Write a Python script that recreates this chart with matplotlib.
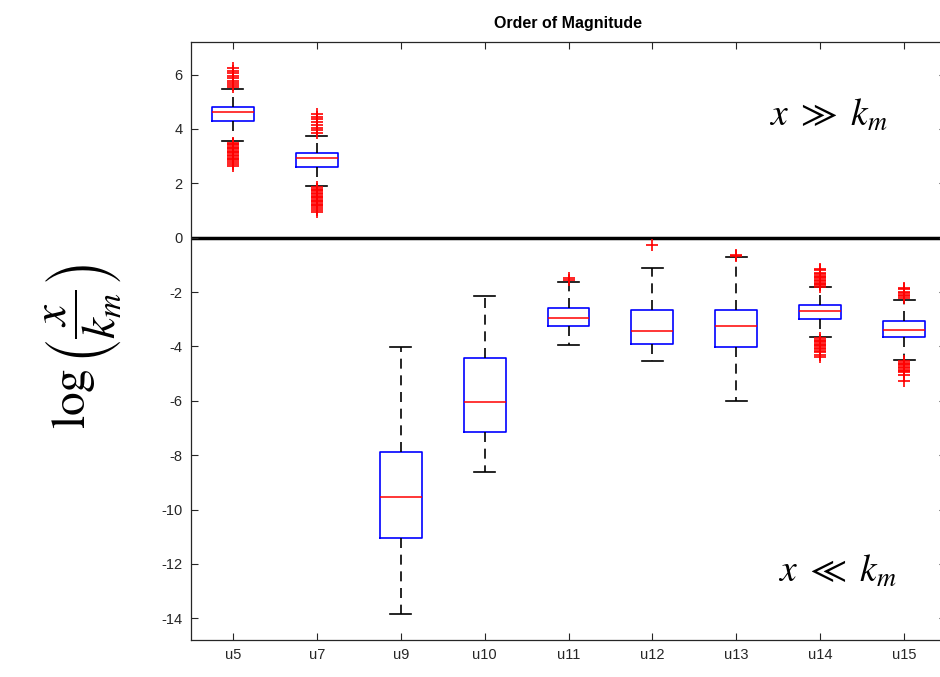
import numpy as np
import matplotlib
matplotlib.use("Agg")
import matplotlib.pyplot as plt

# values
labels = ["u5", "u7", "u9", "u10", "u11", "u12", "u13", "u14", "u15"]
q1 = [4.28, 2.59, -11.04, -7.14, -3.26, -3.90, -4.02, -2.99, -3.65]
med = [4.61, 2.95, -9.53, -6.04, -2.94, -3.42, -3.24, -2.70, -3.41]
q3 = [4.81, 3.11, -7.89, -4.42, -2.59, -2.67, -2.67, -2.49, -3.08]
whislo = [3.57, 1.89, -13.86, -8.63, -3.93, -4.52, -6.02, -3.66, -4.49]
whishi = [5.47, 3.76, -4.02, -2.16, -1.62, -1.11, -0.70, -1.83, -2.28]

fliers = [
    [5.55, 5.62, 5.70, 5.78, 5.86, 5.95, 6.05, 6.15, 6.25,
     3.50, 3.45, 3.40, 3.35, 3.30, 3.25, 3.20, 3.15, 3.10, 3.05,
     3.00, 2.95, 2.90, 2.85, 2.80, 2.70, 2.62],
    [3.85, 3.95, 4.05, 4.15, 4.25, 4.35, 4.45, 4.55,
     1.85, 1.80, 1.75, 1.70, 1.65, 1.60, 1.55, 1.50, 1.45, 1.40,
     1.35, 1.30, 1.25, 1.20, 1.15, 1.10, 1.02, 0.95],
    [],
    [],
    [-1.55, -1.50],
    [-0.26],
    [-0.66, -0.62],
    [-1.80, -1.75, -1.70, -1.65, -1.60, -1.55, -1.50, -1.45, -1.40,
     -1.35, -1.30, -1.20, -1.15,
     -3.70, -3.75, -3.80, -3.85, -3.90, -3.95, -4.00, -4.05, -4.10,
     -4.15, -4.20, -4.30, -4.40],
    [-2.20, -2.15, -2.10, -2.05, -2.00, -1.90, -1.85,
     -4.55, -4.60, -4.65, -4.70, -4.75, -4.80, -4.85, -4.90, -4.95,
     -5.05, -5.28],
]

stats = []
for i in range(len(labels)):
    stats.append({"label": labels[i], "q1": q1[i], "med": med[i], "q3": q3[i],
                  "whislo": whislo[i], "whishi": whishi[i], "fliers": fliers[i]})

plt.rcParams["font.family"] = ["Liberation Sans", "DejaVu Sans"]
plt.rcParams["mathtext.fontset"] = "stix"

fig = plt.figure(figsize=(9.4, 6.77), dpi=100)
ax = fig.add_axes([191 / 940, 37 / 677, 755 / 940, 598 / 677])

gray = "#262626"
ax.axhline(0, color="black", linewidth=2.5, zorder=1)

ax.bxp(stats, positions=np.arange(1, len(labels) + 1), widths=0.5,
       showfliers=True,
       boxprops=dict(color="blue", linewidth=1.2),
       medianprops=dict(color="red", linewidth=1.1),
       whiskerprops=dict(color="black", linewidth=1.2, linestyle=(0, (6, 4))),
       capprops=dict(color="black", linewidth=1.2),
       capwidths=0.25,
       flierprops=dict(marker="+", markeredgecolor="red", markersize=9,
                       markeredgewidth=1.2, linestyle="none"))

ax.set_xlim(0.5, 9.5)
ax.set_ylim(-14.8, 7.2)
ax.set_yticks(np.arange(-14, 7, 2))
ax.set_yticklabels([str(v) for v in range(-14, 7, 2)])
ax.set_xticks(np.arange(1, len(labels) + 1))
ax.set_xticklabels(labels)

ax.tick_params(direction="in", top=True, right=True, length=5, width=0.8,
               colors=gray, labelsize=10.5, pad=6)
for s in ax.spines.values():
    s.set_color(gray)
    s.set_linewidth(0.9)

ax.set_title("Order of Magnitude", fontsize=11.5, fontweight="bold", pad=10)

fig.text(0.088, 0.488, r"$\log\left(\dfrac{x}{k_m}\right)$", rotation=90,
         fontsize=34, ha="center", va="center")

ax.text(8.1, 4.5, r"$x\ \gg\ k_m$", fontsize=27, ha="center", va="center")
ax.text(8.2, -12.3, r"$x\ \ll\ k_m$", fontsize=27, ha="center", va="center")

fig.savefig("out.png", dpi=100)
